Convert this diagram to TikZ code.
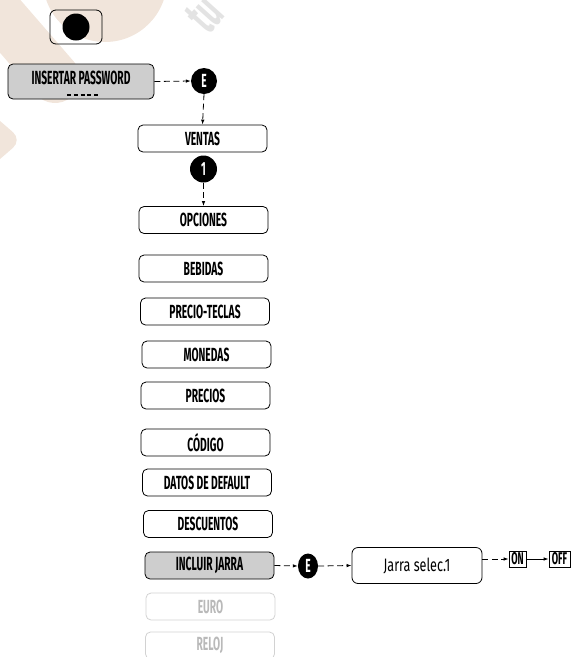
\documentclass[tikz,border=0pt]{standalone}
\usepackage{fontspec}
\setmainfont{Fira Sans}[FakeStretch=0.54]
\newfontfamily\plainfont{Fira Sans}[FakeStretch=0.7]
\usetikzlibrary{shapes, arrows.meta, positioning, calc}

\definecolor{wmtan}{RGB}{241,229,219}
\definecolor{selgray}{RGB}{206,206,206}

\tikzset{
  menu/.style={draw, rounded corners=5pt, line width=0.8pt, minimum width=129pt,
    minimum height=27pt, inner sep=0pt, font=\bfseries\fontsize{19}{19}\selectfont},
  menusel/.style={menu, fill=selgray},
  menuoff/.style={menu, draw=gray!35, text=gray!55},
  key/.style={ellipse, fill=black, text=white, inner sep=0pt,
    font=\bfseries\fontsize{19}{19}\selectfont},
  flow/.style={line width=0.8pt, dash pattern=on 6pt off 3.5pt,
    -{Latex[length=5pt,width=3.5pt]}},
  valbox/.style={draw, line width=0.8pt, minimum height=16pt, inner sep=0pt,
    font=\bfseries\fontsize{17}{17}\selectfont}
}

\begin{document}
\begin{tikzpicture}[x=1pt,y=-1pt]
  \useasboundingbox (0,0) rectangle (576,657);

  % Background marks
  \fill[wmtan] (105,-20) circle (62);
  \draw[wmtan, line width=50pt, line cap=round] (-30,-20) -- (55,78);
  \fill[wmtan, rounded corners=12pt] (-30,95) -- (22,140) -- (-30,185) -- cycle;
  \node[rotate=48, text=gray!22, font=\bfseries\fontsize{52}{52}\selectfont] (wmark) at (205,14) {tu};

  % Power key
  \node[draw, rounded corners=6pt, line width=0.8pt, minimum width=52pt, minimum height=34pt] (power) at (76,27) {};
  \node[circle, fill=black, minimum size=27pt, inner sep=0pt] (powerdot) at (power.center) {};

  % Password entry
  \node[menusel, minimum width=146pt, minimum height=35pt] (pwd) at (81,81.5) {};
  \node[font=\bfseries\fontsize{19}{19}\selectfont, inner sep=0pt] (pwdtext) at (81,78) {INSERTAR PASSWORD};
  \draw[line width=1.3pt, dash pattern=on 4pt off 2.75pt] (67,95) -- (98,95);

  % Keys
  \node[key, minimum width=26pt, minimum height=26pt] (keyE) at (204,81) {E};
  \node[key, minimum width=27pt, minimum height=27pt] (keyone) at (203.5,169) {1};

  % Menu list
  \node[menu] (ventas) at (202.5,138.5) {VENTAS};
  \node[menu] (opciones) at (203.5,220) {OPCIONES};
  \node[menu] (bebidas) at (203.5,268.5) {BEBIDAS};
  \node[menu] (teclas) at (205,311.5) {PRECIO-TECLAS};
  \node[menu] (monedas) at (206.5,354.5) {MONEDAS};
  \node[menu] (precios) at (205.5,395.5) {PRECIOS};
  \node[menu] (codigo) at (205.5,442.5) {CÓDIGO};
  \node[menu] (datos) at (207,482.5) {DATOS DE DEFAULT};
  \node[menu] (descuentos) at (208,524) {DESCUENTOS};
  \node[menusel] (jarra) at (209.5,565.5) {INCLUIR JARRA};
  \node[menuoff] (euro) at (210.5,606.5) {EURO};
  \node[menuoff, text depth=3pt, yshift=1.5pt] (reloj) at (210,647) {RELOJ};

  % Jarra branch
  \node[key, minimum width=20pt, minimum height=25pt] (keyEj) at (308,566) {E};
  \node[menu, minimum width=130pt, minimum height=36pt, rounded corners=6pt,
    font=\plainfont\fontsize{18}{18}\selectfont] (jarsel) at (417,565.5) {Jarra selec.1};
  \node[valbox, minimum width=17pt] (on) at (517.5,559) {ON};
  \node[valbox, minimum width=21pt] (off) at (559.5,559) {OFF};

  % Connectors
  \draw[flow] (pwd.east) -- (keyE.west);
  \draw[flow] (keyE.south) -- (ventas.north);
  \draw[flow] (keyone.south) -- (opciones.north);
  \draw[flow] (jarra.east) -- (keyEj.west);
  \draw[flow] (keyEj.east) -- (jarsel.west);
  \draw[flow] (jarsel.east |- on.west) -- (on.west);
  \draw[flow, solid] (on.east) -- (off.west);
\end{tikzpicture}
\end{document}
